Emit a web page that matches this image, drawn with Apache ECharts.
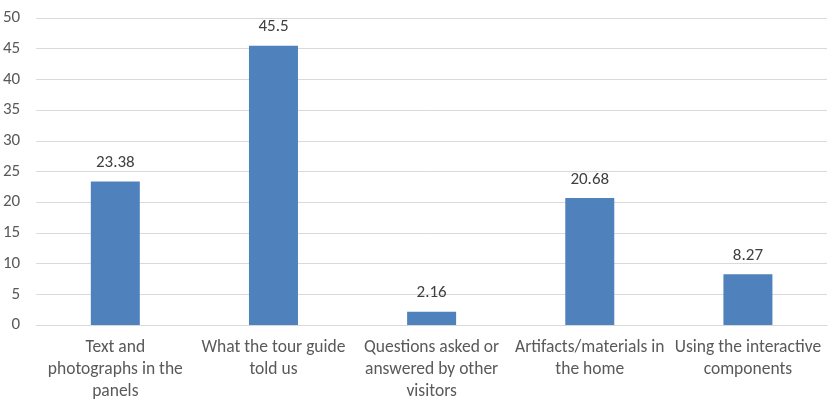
<!DOCTYPE html>
<html>
<head>
<meta charset="utf-8">
<script src="https://cdn.jsdelivr.net/npm/echarts@6/dist/echarts.min.js"></script>
<style>
html, body { margin: 0; padding: 0; background: #fff; }
#chart { width: 828px; height: 410px; }
</style>
</head>
<body>
<div id="chart"></div>
<script>
// categories and values
var categories = [
    "Text and\nphotographs in the\npanels",
    "What the tour guide\ntold us",
    "Questions asked or\nanswered by other\nvisitors",
    "Artifacts/materials in\nthe home",
    "Using the interactive\ncomponents"
];
var values = [23.38, 45.5, 2.16, 20.68, 8.27];
var yTicks = { min: 0, max: 50, step: 5 };

var textColor = "#595959";
var fontFamily = "Carlito, Lato, sans-serif";

var chart = echarts.init(document.getElementById("chart"));
chart.setOption({
    animation: false,
    grid: { left: 35, right: 1, top: 18, bottom: 85 },
    xAxis: {
        type: "category",
        data: categories,
        axisTick: { show: false },
        axisLine: { lineStyle: { color: "#D9D9D9" } },
        axisLabel: {
            color: textColor,
            fontFamily: fontFamily,
            fontSize: 17.5,
            lineHeight: 22,
            margin: 12,
            interval: 0
        }
    },
    yAxis: {
        type: "value",
        min: yTicks.min,
        max: yTicks.max,
        interval: yTicks.step,
        axisLine: { show: false },
        axisTick: { show: false },
        splitLine: { lineStyle: { color: "#D9D9D9" } },
        axisLabel: {
            color: textColor,
            fontFamily: fontFamily,
            fontSize: 17,
            margin: 16
        }
    },
    series: [
        {
            type: "bar",
            data: values,
            barWidth: 49,
            itemStyle: { color: "#4F81BD" },
            label: {
                show: true,
                position: "top",
                distance: 10,
                color: "#404040",
                fontFamily: fontFamily,
                fontSize: 17
            }
        }
    ]
});
</script>
</body>
</html>
